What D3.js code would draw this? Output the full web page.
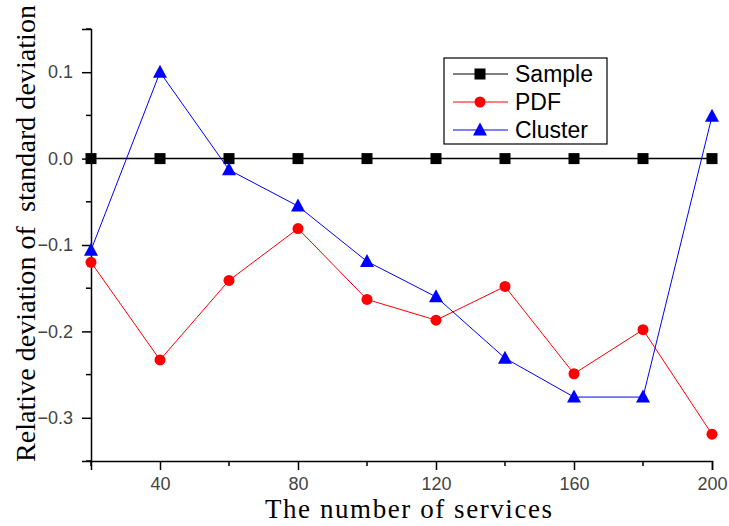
<!DOCTYPE html>
<html>
<head>
<meta charset="utf-8">
<script src="https://cdn.jsdelivr.net/npm/d3@7"></script>
<style>
  body { margin: 0; background: #fff; }
  svg { display: block; }
</style>
</head>
<body>
<div id="chart"></div>
<script>
// data
var services = [20, 40, 60, 80, 100, 120, 140, 160, 180, 200];
var sample = [0, 0, 0, 0, 0, 0, 0, 0, 0, 0];
var pdf = [-0.120, -0.233, -0.141, -0.081, -0.163, -0.187, -0.148, -0.249, -0.198, -0.319];
var cluster = [-0.106, 0.100, -0.013, -0.055, -0.119, -0.160, -0.231, -0.276, -0.276, 0.049];
var xTicks = [40, 80, 120, 160, 200];
var xMinor = [20, 60, 100, 140, 180];
var yTicks = [0.1, 0.0, -0.1, -0.2, -0.3];
var yMinor = [0.15, 0.05, -0.05, -0.15, -0.25, -0.35];
var seriesNames = ["Sample", "PDF", "Cluster"];

var chart = {
    width: 729,
    height: 526,
    left: 91,
    right: 712,
    top: 29,
    bottom: 461
};

var x = d3.scaleLinear().domain([20, 200]).range([chart.left, chart.right]);
var y = d3.scaleLinear().domain([-0.35, 0.15]).range([chart.bottom, chart.top]);

var svg = d3.select("#chart")
    .append("svg")
    .attr("width", chart.width)
    .attr("height", chart.height);

// axes
var xAxis = d3.axisBottom(x).tickValues(xTicks).tickSize(9).tickPadding(7).tickFormat(d3.format("d"));
var yAxis = d3.axisLeft(y).tickValues(yTicks).tickSize(9).tickPadding(9).tickFormat(d3.format(".1f"));

var gx = svg.append("g")
    .attr("transform", "translate(0," + chart.bottom + ")")
    .call(xAxis);
var gy = svg.append("g")
    .attr("transform", "translate(" + chart.left + ",0)")
    .call(yAxis);

// minor ticks
gx.selectAll(".minor").data(xMinor).enter().append("line")
    .attr("x1", function (d) { return x(d); })
    .attr("x2", function (d) { return x(d); })
    .attr("y1", 0).attr("y2", 5)
    .attr("stroke", "#000").attr("stroke-width", 1.5);
gy.selectAll(".minor").data(yMinor).enter().append("line")
    .attr("y1", function (d) { return y(d); })
    .attr("y2", function (d) { return y(d); })
    .attr("x1", 0).attr("x2", -5)
    .attr("stroke", "#000").attr("stroke-width", 1.5);

[gx, gy].forEach(function (g) {
    g.select(".domain").attr("stroke", "#000").attr("stroke-width", 1.5);
    g.selectAll(".tick line").attr("stroke", "#000").attr("stroke-width", 1.5);
    g.selectAll(".tick text")
        .attr("fill", "#444")
        .style("font-family", "Arial, 'Liberation Sans', sans-serif")
        .style("font-size", "18px");
});

// axis titles
svg.append("text")
    .attr("x", 265)
    .attr("y", 518)
    .attr("textLength", 287)
    .attr("lengthAdjust", "spacing")
    .style("font-family", "'Times New Roman', 'Liberation Serif', serif")
    .style("font-size", "27px")
    .text("The number of services");

svg.append("text")
    .attr("transform", "translate(35,462) rotate(-90)")
    .attr("textLength", 457)
    .attr("lengthAdjust", "spacing")
    .style("font-family", "'Times New Roman', 'Liberation Serif', serif")
    .style("font-size", "28px")
    .style("white-space", "pre")
    .text("Relative deviation of  standard deviation");

var line = d3.line()
    .x(function (d, i) { return x(services[i]); })
    .y(function (d) { return y(d); });

var plot = svg.append("g");

function drawMarker(g, type, color, cx, cy) {
    if (type == "square") {
        g.append("rect")
            .attr("x", cx - 5.5).attr("y", cy - 5.5)
            .attr("width", 11).attr("height", 11)
            .attr("fill", color);
    } else if (type == "circle") {
        g.append("circle")
            .attr("cx", cx).attr("cy", cy).attr("r", 5.5)
            .attr("fill", color);
    } else {
        g.append("path")
            .attr("d", "M" + cx + "," + (cy - 7.5) + "L" + (cx + 7) + "," + (cy + 5.5) + "L" + (cx - 7) + "," + (cy + 5.5) + "Z")
            .attr("fill", color);
    }
}

var series = [
    { name: seriesNames[0], values: sample, color: "#000", marker: "square", width: 1.5 },
    { name: seriesNames[1], values: pdf, color: "#ff0000", marker: "circle", width: 1 },
    { name: seriesNames[2], values: cluster, color: "#0000ff", marker: "triangle", width: 1 }
];

series.forEach(function (s) {
    plot.append("path")
        .datum(s.values)
        .attr("d", line)
        .attr("fill", "none")
        .attr("stroke", s.color)
        .attr("stroke-width", s.width);
    s.values.forEach(function (v, i) {
        drawMarker(plot, s.marker, s.color, x(services[i]), y(v));
    });
});

// legend
var legend = svg.append("g").attr("transform", "translate(444,58)");
legend.append("rect")
    .attr("width", 163).attr("height", 86)
    .attr("fill", "#fff")
    .attr("stroke", "#000").attr("stroke-width", 1.2);

series.forEach(function (s, i) {
    var ly = 16 + i * 28;
    legend.append("line")
        .attr("x1", 9).attr("x2", 64)
        .attr("y1", ly).attr("y2", ly)
        .attr("stroke", s.color).attr("stroke-width", 1);
    drawMarker(legend, s.marker, s.color, 36, ly);
    legend.append("text")
        .attr("x", 71).attr("y", ly)
        .attr("dy", "0.36em")
        .style("font-family", "Arial, 'Liberation Sans', sans-serif")
        .style("font-size", "23px")
        .text(s.name);
});
</script>
</body>
</html>
